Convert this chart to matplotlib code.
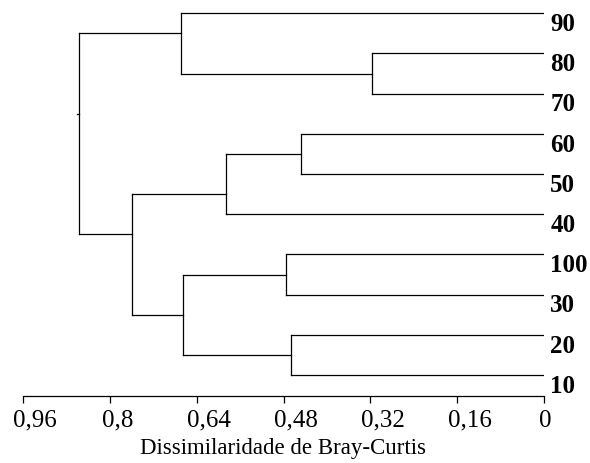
import matplotlib
matplotlib.use("Agg")
import matplotlib.pyplot as plt
import matplotlib.transforms as mtransforms

# ---- data ----
leaves = ["90", "80", "70", "60", "50", "40", "100", "30", "20", "10"]
# merges (top child, bottom child, dissimilarity); "cK" refers to merge K
merge_a = ["80", "60", "20", "100", "c1", "c3", "90", "c4", "c6"]
merge_b = ["70", "50", "10", "30", "40", "c2", "c0", "c5", "c7"]
merge_h = [0.317, 0.447, 0.466, 0.475, 0.586, 0.665, 0.669, 0.758, 0.856]
xticks = [0.96, 0.8, 0.64, 0.48, 0.32, 0.16, 0]
xticklabels = ["0,96", "0,8", "0,64", "0,48", "0,32", "0,16", "0"]
xlabel = "Dissimilaridade de Bray-Curtis"

SERIF = ["Liberation Serif", "DejaVu Serif"]
LW = 0.9
COL = "black"

fig = plt.figure(figsize=(5.9, 4.63), dpi=100)
W, H = 590, 463
ax = fig.add_axes([22.7 / W, 67 / H, (544.3 - 22.7) / W, 396 / H])

# node info: name -> (attach_y, height, first_idx, last_idx)
info = {lab: (float(i), 0.0, i, i) for i, lab in enumerate(leaves)}
for k, (a, b, h) in enumerate(zip(merge_a, merge_b, merge_h)):
    ya, ha, fa, la = info[a]
    yb, hb, fb, lb = info[b]
    ax.plot([h, h], [ya, yb], color=COL, lw=LW, solid_capstyle="projecting")
    ax.plot([ha, h], [ya, ya], color=COL, lw=LW, solid_capstyle="projecting")
    ax.plot([hb, h], [yb, yb], color=COL, lw=LW, solid_capstyle="projecting")
    attach = (la + fb) / 2.0
    info["c%d" % k] = (attach, h, min(fa, fb), max(la, lb))

# root stub
ry, rh, _, _ = info["c%d" % (len(merge_h) - 1)]
ax.plot([rh, rh + 0.004], [ry, ry], color=COL, lw=LW)

# leaf labels
for i, lab in enumerate(leaves):
    ax.annotate(lab, xy=(0, i), xytext=(4.3, 0.2), textcoords="offset points",
                ha="left", va="top", fontsize=18, fontweight="bold",
                family=SERIF, annotation_clip=False)

ax.set_xlim(0.96, 0)
ax.set_ylim(9.52, -0.33)
for s in ["top", "right", "left"]:
    ax.spines[s].set_visible(False)
ax.spines["bottom"].set_linewidth(LW)
ax.set_yticks([])
ax.set_xticks(xticks)
ax.set_xticklabels(xticklabels, family=SERIF, fontsize=18)
ax.tick_params(axis="x", direction="out", length=5, width=LW, pad=5.0)
# the reference tick labels sit slightly right of their ticks
for t in ax.get_xticklabels():
    shift = (len(t.get_text()) - 1) * 4.0 + 0.5
    t.set_transform(t.get_transform() +
                    mtransforms.ScaledTranslation(shift / 100, 0, fig.dpi_scale_trans))
ax.set_xlabel(xlabel, family=SERIF, fontsize=16.5, labelpad=4.5)

fig.savefig("out.png", dpi=100)
